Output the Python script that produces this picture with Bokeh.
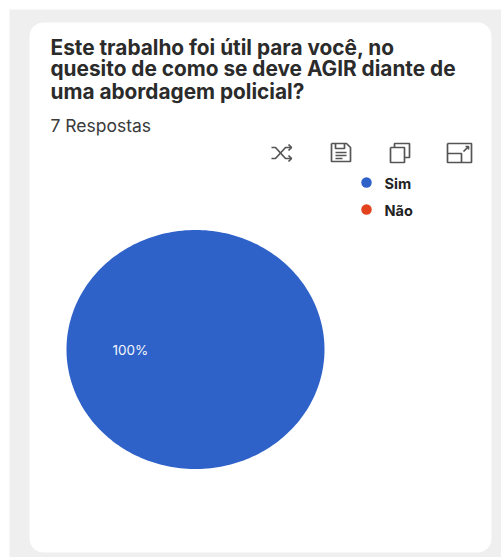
import numpy as np
from bokeh.embed import file_html
from bokeh.models import Range1d
from bokeh.plotting import figure
from bokeh.resources import INLINE
from bokeh.core.properties import value

# ---- data ----
categories = ["Sim", "Não"]
counts = [7, 0]
slice_colors = ["#2e62c9", "#e2431e"]
percent_label = "100%"
title_lines = [
    "Este trabalho foi útil para você, no",
    "quesito de como se deve AGIR diante de",
    "uma abordagem policial?",
]
responses_label = "7 Respostas"

# ---- layout (page pixels) ----
W, H = 501, 557
FONT = value("Inter")
PIE_CX, PIE_CY, PIE_RX, PIE_RY = 195, 349, 129, 119.5

p = figure(width=W, height=H, output_backend="svg", toolbar_location=None,
           x_range=Range1d(0, W), y_range=Range1d(H, 0),
           min_border=0, min_border_left=0, min_border_right=0,
           min_border_top=0, min_border_bottom=0, outline_line_color=None,
           background_fill_color="white", border_fill_color="white")
p.xaxis.visible = False
p.yaxis.visible = False
p.grid.visible = False

# grey panel and rounded card
p.quad(left=9, right=501, top=9, bottom=557, fill_color="#efefef", line_color=None)


def rounded(x0, y0, x1, y1, r):
    t = np.linspace(0, np.pi / 2, 12)
    xs = np.concatenate([x1 - r + r * np.sin(t), x1 - r + r * np.cos(t),
                         x0 + r - r * np.sin(t), x0 + r - r * np.cos(t)])
    ys = np.concatenate([y0 + r - r * np.cos(t), y1 - r + r * np.sin(t),
                         y1 - r + r * np.cos(t), y0 + r - r * np.sin(t)])
    return xs, ys


cx, cy = rounded(29, 22, 491, 552, 14)
p.patch(cx, cy, fill_color="white", line_color=None)

# pie slices, built from the counts (the pie is slightly squashed in the reference)
fractions = np.array(counts, dtype=float) / sum(counts)
ends = np.cumsum(fractions) * 2 * np.pi
starts = ends - fractions * 2 * np.pi
for frac, a0, a1, col in zip(fractions, starts, ends, slice_colors):
    if frac == 0:
        continue
    t = np.linspace(a0, a1, 240)
    xs = PIE_CX + PIE_RX * np.sin(t)
    ys = PIE_CY - PIE_RY * np.cos(t)
    if frac < 1:
        xs = np.r_[PIE_CX, xs]
        ys = np.r_[PIE_CY, ys]
    p.patch(xs, ys, fill_color=col, line_color=None)

p.text(x=[112], y=[349.5], text=[percent_label], text_color="#f4f6fb",
       text_font=FONT, text_font_size="13.5px", text_baseline="middle")

# title and subtitle
p.text(x=[50] * 3, y=[46.5, 68, 91], text=title_lines, text_color="#2b2b2b",
       text_font=FONT, text_font_style="bold", text_font_size="20.8px",
       text_baseline="middle")
p.text(x=[50], y=[124.5], text=[responses_label], text_color="#3a3a3a",
       text_font=FONT, text_font_size="17.5px", text_baseline="middle")

# legend
p.scatter(x=[366, 366], y=[182, 209], size=10.5, color=slice_colors, line_color=None)
p.text(x=[384, 384], y=[183, 209.5], text=categories, text_color="#222222",
       text_font=FONT, text_font_style="bold", text_font_size="14.5px",
       text_baseline="middle")

# toolbar-like icons (decoration)
ICON = dict(line_color="#555555", line_width=1.7)
# shuffle
p.multi_line(xs=[[271, 275, 285, 291], [271, 275, 285, 291], [288, 291, 288], [288, 291, 288]],
             ys=[[147, 147, 158, 158], [158, 158, 147, 147], [144, 147, 150], [155, 158, 161]], **ICON)
# save
p.multi_line(xs=[[331, 346, 350, 350, 331, 331], [335, 335, 344, 344], [335, 346], [335, 346], [335, 342]],
             ys=[[143, 143, 147, 161, 161, 143], [143, 148, 148, 143], [152, 152], [155, 155], [158, 158]], **ICON)
# copy
p.multi_line(xs=[[390, 404, 404, 390, 390], [394, 394, 409, 409, 404]],
             ys=[[147, 147, 162, 162, 147], [147, 143, 143, 157, 157]], **ICON)
# expand
p.multi_line(xs=[[447, 471, 471, 447, 447], [447, 461, 461], [463, 468], [465, 468, 468]],
             ys=[[143, 143, 162, 162, 143], [153, 153, 162], [151, 146], [146, 146, 149]], **ICON)

open("out.html", "w").write(file_html(p, INLINE))
